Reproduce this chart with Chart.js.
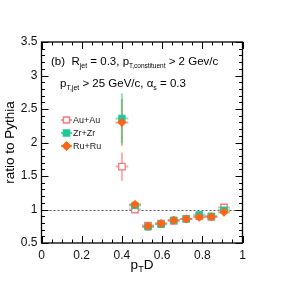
<!DOCTYPE html>
<html>
<head>
<meta charset="utf-8">
<script src="https://cdn.jsdelivr.net/npm/chart.js@4"></script>
<style>
  html, body { margin: 0; padding: 0; background: #fff; }
  canvas { display: block; }
</style>
</head>
<body>
<canvas id="c" width="284" height="284"></canvas>
<script>
// pT D bin centres
const ptd = [0.40, 0.465, 0.53, 0.595, 0.658, 0.72, 0.785, 0.845, 0.908];
const ptdErr = [0.032, 0.03, 0.03, 0.03, 0.03, 0.03, 0.03, 0.03, 0.03];

const auau = [1.64, 1.00, 0.76, 0.79, 0.83, 0.86, 0.90, 0.89, 1.03];
const auauErr = [0.21, 0.03, 0.02, 0.02, 0.02, 0.02, 0.02, 0.02, 0.03];
const zrzr = [2.36, 1.06, 0.74, 0.78, 0.84, 0.86, 0.92, 0.90, 0.99];
const zrzrErr = [0.37, 0.03, 0.02, 0.02, 0.02, 0.02, 0.03, 0.03, 0.03];
const ruru = [2.30, 1.075, 0.75, 0.79, 0.84, 0.86, 0.885, 0.89, 0.96];
const ruruErr = [0.35, 0.03, 0.02, 0.02, 0.02, 0.02, 0.03, 0.03, 0.03];

const xTicks = [0, 0.2, 0.4, 0.6, 0.8, 1];
const yTicks = [0.5, 1, 1.5, 2, 2.5, 3, 3.5];

const FONT = '"Liberation Sans", Arial, Helvetica, sans-serif';
const colAu = '#f07c7c';
const colZr = '#1fc79c';
const colRu = '#ff6414';

function pts(ys, yerr) {
    return ptd.map((x, i) => ({ x: x, y: ys[i], xe: ptdErr[i], ye: yerr[i] }));
}

// text with sub/superscripts, segments are [text, size, dy]
function richText(ctx, x, y, segs) {
    ctx.textBaseline = 'alphabetic';
    ctx.textAlign = 'left';
    segs.forEach(s => {
        ctx.font = s[1] + 'px ' + FONT;
        ctx.fillText(s[0], x, y + (s[2] || 0));
        x += ctx.measureText(s[0]).width;
    });
}

function richWidth(ctx, segs) {
    let w = 0;
    segs.forEach(s => {
        ctx.font = s[1] + 'px ' + FONT;
        w += ctx.measureText(s[0]).width;
    });
    return w;
}

// error bars under the markers
const errorBars = {
    id: 'errorBars',
    beforeDatasetsDraw(chart) {
        const ctx = chart.ctx;
        const xs = chart.scales.x, ys = chart.scales.y;
        const area = chart.chartArea;
        ctx.save();
        // dotted line at 1
        ctx.strokeStyle = '#555';
        ctx.lineWidth = 1;
        ctx.setLineDash([2, 2]);
        ctx.beginPath();
        ctx.moveTo(area.left, Math.round(ys.getPixelForValue(1)) + 0.5);
        ctx.lineTo(area.right, Math.round(ys.getPixelForValue(1)) + 0.5);
        ctx.stroke();
        ctx.setLineDash([]);

        chart.data.datasets.slice().reverse().forEach(ds => {
            ctx.strokeStyle = ds.errColor;
            ctx.lineWidth = 2;
            ds.data.forEach(p => {
                const px = xs.getPixelForValue(p.x);
                const py = ys.getPixelForValue(p.y);
                ctx.beginPath();
                ctx.moveTo(px, ys.getPixelForValue(p.y + p.ye));
                ctx.lineTo(px, ys.getPixelForValue(p.y - p.ye));
                ctx.moveTo(xs.getPixelForValue(p.x - p.xe), py);
                ctx.lineTo(xs.getPixelForValue(p.x + p.xe), py);
                ctx.stroke();
            });
        });
        ctx.restore();
    }
};

// frame with inward ticks on all sides, labels, legend
const frame = {
    id: 'frame',
    afterDatasetsDraw(chart) {
        const ctx = chart.ctx;
        const xs = chart.scales.x, ys = chart.scales.y;
        const a = chart.chartArea;
        ctx.save();
        ctx.strokeStyle = '#000';
        ctx.lineWidth = 1.3;
        ctx.strokeRect(a.left, a.top, a.right - a.left, a.bottom - a.top);

        ctx.lineWidth = 1;
        ctx.beginPath();
        for (let i = 0; i <= 20; i++) {
            const v = i * 0.05;
            const len = (i % 4 === 0) ? 7 : 3.5;
            const px = Math.round(xs.getPixelForValue(v)) + 0.5;
            ctx.moveTo(px, a.bottom); ctx.lineTo(px, a.bottom - len);
            ctx.moveTo(px, a.top); ctx.lineTo(px, a.top + len);
        }
        for (let i = 0; i <= 30; i++) {
            const v = 0.5 + i * 0.1;
            const len = (i % 5 === 0) ? 7 : 3.5;
            const py = Math.round(ys.getPixelForValue(v)) + 0.5;
            ctx.moveTo(a.left, py); ctx.lineTo(a.left + len, py);
            ctx.moveTo(a.right, py); ctx.lineTo(a.right - len, py);
        }
        ctx.stroke();

        ctx.fillStyle = '#000';
        // axis titles
        const xt = [['p', 13.5, 0], ['T', 9, 3], ['D', 13.5, 0]];
        const cx = (a.left + a.right) / 2;
        richText(ctx, cx - richWidth(ctx, xt) / 2, 269, xt);

        ctx.save();
        ctx.translate(14, (a.top + a.bottom) / 2);
        ctx.rotate(-Math.PI / 2);
        ctx.font = '13.5px ' + FONT;
        ctx.textAlign = 'center';
        ctx.textBaseline = 'alphabetic';
        ctx.fillText('ratio to Pythia', 0, 0);
        ctx.restore();

        // annotation
        richText(ctx, 51, 65, [
            ['(b)  R', 11.5, 0], ['jet', 7, 3], [' = 0.3, p', 11.5, 0],
            ['T,constituent', 6.5, 3], [' > 2 Gev/c', 11.5, 0]
        ]);
        richText(ctx, 60, 87, [
            ['p', 11.5, 0], ['T,jet', 7, 3], [' > 25 GeV/c, \u03b1', 11.5, 0],
            ['s', 7, 3], [' = 0.3', 11.5, 0]
        ]);

        // legend
        const leg = [
            ['Au+Au', colAu, 'rect', true, 120, 4.3],
            ['Zr+Zr', colZr, 'rect', false, 133, 4.3],
            ['Ru+Ru', colRu, 'rectRot', false, 146, 4]
        ];
        leg.forEach(l => {
            ctx.strokeStyle = l[1];
            ctx.lineWidth = 1.5;
            ctx.beginPath();
            ctx.moveTo(61, l[4]); ctx.lineTo(72, l[4]);
            ctx.stroke();
            ctx.fillStyle = l[3] ? '#fff' : l[1];
            Chart.helpers.drawPoint(ctx, { pointStyle: l[2], radius: l[5], borderWidth: 1.3 }, 66.5, l[4]);
            ctx.font = '9px ' + FONT;
            ctx.fillStyle = '#222';
            ctx.textBaseline = 'middle';
            ctx.fillText(l[0], 73, l[4] + 0.5);
        });
        ctx.restore();
    }
};

const tickFont = { family: FONT, size: 12 };

new Chart(document.getElementById('c'), {
    type: 'scatter',
    data: {
        datasets: [
            { label: 'Au+Au', data: pts(auau, auauErr), pointStyle: 'rect', pointRadius: 4.6,
              backgroundColor: '#fff', borderColor: colAu, borderWidth: 1.3,
              errColor: 'rgba(240,124,124,0.6)', order: 3 },
            { label: 'Zr+Zr', data: pts(zrzr, zrzrErr), pointStyle: 'rect', pointRadius: 4.5,
              backgroundColor: colZr, borderColor: colZr, borderWidth: 1,
              errColor: 'rgba(31,199,156,0.55)', order: 2 },
            { label: 'Ru+Ru', data: pts(ruru, ruruErr), pointStyle: 'rectRot', pointRadius: 4.1,
              backgroundColor: colRu, borderColor: colRu, borderWidth: 1,
              errColor: 'rgba(240,130,50,0.65)', order: 1 }
        ]
    },
    options: {
        responsive: false,
        animation: false,
        events: [],
        layout: { padding: { top: 42, right: 41.5, left: 0, bottom: 0 } },
        plugins: { legend: { display: false }, tooltip: { enabled: false } },
        scales: {
            x: {
                type: 'linear', min: 0, max: 1,
                afterBuildTicks: s => { s.ticks = xTicks.map(v => ({ value: v })); },
                afterFit: s => { s.height = 41; },
                grid: { display: false, drawTicks: false },
                border: { display: false },
                ticks: { padding: 5, font: tickFont, color: '#111', maxRotation: 0, autoSkip: false,
                         callback: v => String(+v.toFixed(2)) }
            },
            y: {
                type: 'linear', min: 0.5, max: 3.5,
                afterBuildTicks: s => { s.ticks = yTicks.map(v => ({ value: v })); },
                afterFit: s => { s.width = 41.5; },
                grid: { display: false, drawTicks: false },
                border: { display: false },
                ticks: { padding: 4, font: tickFont, color: '#111', autoSkip: false,
                         callback: v => String(+v.toFixed(2)) }
            }
        }
    },
    plugins: [errorBars, frame]
});
</script>
</body>
</html>
